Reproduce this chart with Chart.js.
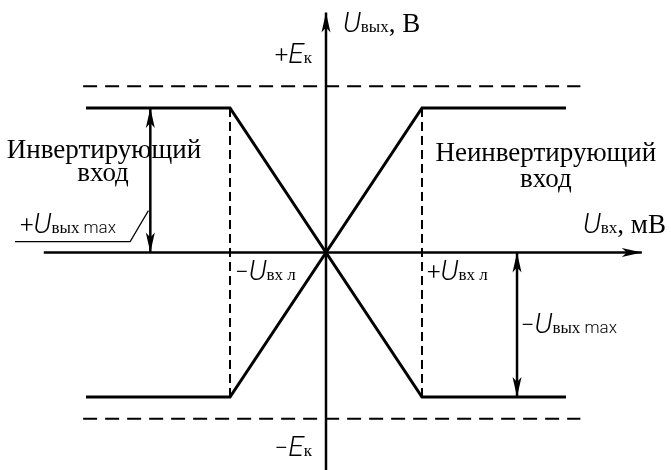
<!DOCTYPE html>
<html>
<head>
<meta charset="utf-8">
<script src="https://cdn.jsdelivr.net/npm/chart.js@4.4.0/dist/chart.umd.min.js"></script>
<style>
  html, body { margin: 0; padding: 0; background: #fff; }
</style>
</head>
<body>
<canvas id="c" width="671" height="470"></canvas>
<script>
// units: x -> U_вх л = 1, y -> U_вых max = 1
const charX = [-2.5, -1, 1, 2.5];
const nonInvY = [-1, -1, 1, 1];
const invY = [1, 1, -1, -1];
const eK = 1.15;
const eKX = [-2.53, 2.65];
const thresholdX = [-1, 1];
const xAxisX = [-2.94, 3.29];
const yAxisY = [-1.51, 1.66];
const arrowLeftX = -1.83;
const arrowLeftY = [0, 1];
const arrowRightX = 1.99;
const arrowRightY = [0, -1];
const leaderX = [-3.24, -2.04, -1.85];
const leaderY = [0.075, 0.075, 0.29];
const xRange = [-3.396, 3.594];
const yRange = [-1.505, 1.747];

const pts = (xs, ys) => xs.map((x, i) => ({ x: x, y: ys[i] }));

const SERIF = '"Liberation Serif", "Times New Roman", serif';
const SANS = 'Roboto, "DejaVu Sans", sans-serif';
const fU = 'italic 300 28px ' + SANS;
const fSign = '300 24px ' + SANS;
const fSub = '17px ' + SERIF;
const fMax = '300 17px ' + SANS;
const fBig = '27px ' + SERIF;

// labels: anchor in data units, align, runs
const labels = [
  { x: 0.177, y: 1.526, align: 'left', runs: [['U', fU], ['вых', fSub], [', В', fBig]] },
  { x: -0.146, y: 1.311, align: 'right', runs: [['+', fSign], ['E', fU], ['к', fSub]] },
  { x: -0.146, y: -1.408, align: 'right', runs: [['\u2212', fSign], ['E', fU], ['к', fSub]] },
  { x: -2.3125, y: 0.654, align: 'center', runs: [['Инвертирующий', fBig]] },
  { x: -2.323, y: 0.495, align: 'center', runs: [['вход', fBig]] },
  { x: 2.29, y: 0.633, align: 'center', runs: [['Неинвертирующий', fBig]] },
  { x: 2.29, y: 0.45, align: 'center', runs: [['вход', fBig]] },
  { x: -3.1875, y: 0.135, align: 'left', runs: [['+', fSign], ['U', fU], ['вых', fSub], [' max', fMax]] },
  { x: -0.948, y: -0.19, align: 'left', runs: [['\u2212', fSign], ['U', fU], ['вх л', fSub]] },
  { x: 1.052, y: -0.19, align: 'left', runs: [['+', fSign], ['U', fU], ['вх л', fSub]] },
  { x: 2.03, y: -0.557, align: 'left', runs: [['\u2212', fSign], ['U', fU], ['вых', fSub], [' max', fMax]] },
  { x: 2.677, y: 0.135, align: 'left', runs: [['U', fU], ['вх', fSub], [', мВ', fBig]] }
];

function line(data, width, dash) {
  return {
    data: data,
    borderColor: '#000',
    borderWidth: width,
    borderDash: dash || [],
    pointRadius: 0,
    fill: false,
    tension: 0,
    borderCapStyle: 'butt',
    borderJoinStyle: 'miter'
  };
}

function arrowHead(ctx, x, y, dx, dy) {
  const len = 20, half = 4.5, notch = 5;
  const px = -dy, py = dx;
  ctx.beginPath();
  ctx.moveTo(x, y);
  ctx.lineTo(x - dx * len + px * half, y - dy * len + py * half);
  ctx.lineTo(x - dx * (len - notch), y - dy * (len - notch));
  ctx.lineTo(x - dx * len - px * half, y - dy * len - py * half);
  ctx.closePath();
  ctx.fill();
}

const decor = {
  id: 'decor',
  afterDatasetsDraw(chart) {
    const ctx = chart.ctx;
    const xs = chart.scales.x, ys = chart.scales.y;
    const X = v => xs.getPixelForValue(v);
    const Y = v => ys.getPixelForValue(v);
    ctx.save();
    ctx.fillStyle = '#000';
    arrowHead(ctx, X(xAxisX[1]), Y(0), 1, 0);
    arrowHead(ctx, X(0), Y(yAxisY[1]), 0, -1);
    arrowHead(ctx, X(arrowLeftX), Y(arrowLeftY[1]), 0, -1);
    arrowHead(ctx, X(arrowLeftX), Y(arrowLeftY[0]), 0, 1);
    arrowHead(ctx, X(arrowRightX), Y(arrowRightY[0]), 0, -1);
    arrowHead(ctx, X(arrowRightX), Y(arrowRightY[1]), 0, 1);

    ctx.textBaseline = 'alphabetic';
    ctx.textAlign = 'left';
    labels.forEach(l => {
      let w = 0;
      l.runs.forEach(r => { ctx.font = r[1]; w += ctx.measureText(r[0]).width; });
      let x = X(l.x);
      if (l.align === 'right') x -= w;
      if (l.align === 'center') x -= w / 2;
      const y = Y(l.y);
      l.runs.forEach(r => {
        ctx.font = r[1];
        ctx.fillText(r[0], x, y);
        x += ctx.measureText(r[0]).width;
      });
    });
    ctx.restore();
  }
};

new Chart(document.getElementById('c'), {
  type: 'line',
  data: {
    datasets: [
      line(pts(xAxisX, [0, 0]), 2.5),
      line(pts([0, 0], yAxisY), 2.5),
      line(pts(eKX, [eK, eK]), 2, [14, 8]),
      line(pts(eKX, [-eK, -eK]), 2, [14, 8]),
      line(pts([thresholdX[0], thresholdX[0]], [1, -1]), 2, [9, 5]),
      line(pts([thresholdX[1], thresholdX[1]], [1, -1]), 2, [9, 5]),
      line(pts(charX, nonInvY), 3),
      line(pts(charX, invY), 3),
      line(pts([arrowLeftX, arrowLeftX], arrowLeftY), 2.5),
      line(pts([arrowRightX, arrowRightX], arrowRightY), 2.5),
      line(pts(leaderX, leaderY), 1.2)
    ]
  },
  options: {
    responsive: false,
    animation: false,
    layout: { padding: 0 },
    plugins: { legend: { display: false }, tooltip: { enabled: false } },
    scales: {
      x: { type: 'linear', display: false, min: xRange[0], max: xRange[1] },
      y: { type: 'linear', display: false, min: yRange[0], max: yRange[1] }
    }
  },
  plugins: [decor]
});
</script>
</body>
</html>
